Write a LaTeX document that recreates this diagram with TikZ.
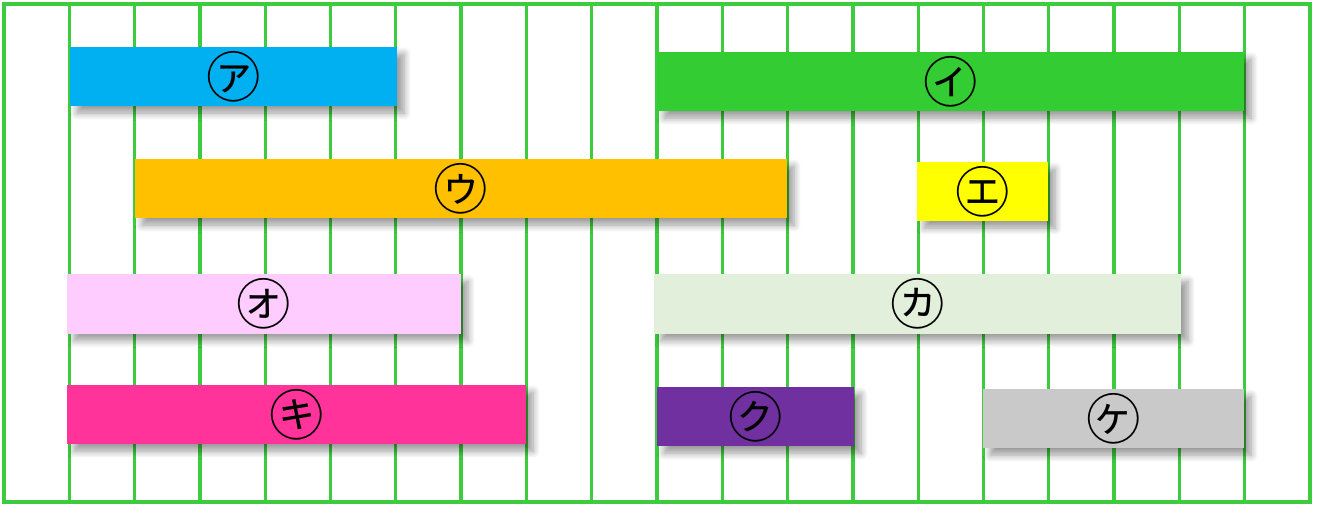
\documentclass[tikz,border=0pt]{standalone}
\usepackage{fontspec}
\newfontfamily\jpfont{Noto Sans CJK JP}
\usepackage{tikz}
\usetikzlibrary{positioning,shadows.blur}
\usepackage{xcolor}
\definecolor{gridgreen}{HTML}{3DCC3D}
\definecolor{barblue}{HTML}{00B0F0}
\definecolor{bargreen}{HTML}{33CC33}
\definecolor{barorange}{HTML}{FFC000}
\definecolor{baryellow}{HTML}{FFFF00}
\definecolor{barpink}{HTML}{FFCCFF}
\definecolor{barmint}{HTML}{E2EFDA}
\definecolor{barmagenta}{HTML}{FF3399}
\definecolor{barpurple}{HTML}{7030A0}
\definecolor{bargray}{HTML}{C9C9C9}

\begin{document}
\begin{tikzpicture}[x=0.02cm, y=-0.02cm,
    bar/.style={rectangle, inner sep=0pt, minimum height=59*0.02cm,
      font=\jpfont\fontsize{31}{31}\selectfont,
      blur shadow={shadow xshift=4pt, shadow yshift=-4pt, shadow blur steps=8, shadow blur radius=4pt, shadow opacity=40}},
    gridline/.style={gridgreen, line width=1.9pt}]
  \useasboundingbox (0,0) rectangle (1317,506);
  % Grid
  \foreach \k in {1,...,19}
    \draw[gridline] ({4+65.3*\k},4) -- ({4+65.3*\k},502);
  \draw[gridline] (4,4) rectangle (1310,502);
  % Row 1
  \node[bar, fill=barblue, minimum width=327*0.02cm] (a) at (233.5,76.5) {\raisebox{-2pt}{㋐}};
  \node[bar, fill=bargreen, minimum width=587*0.02cm] (i) at (950.5,81.5) {\raisebox{-2pt}{㋑}};
  % Row 2
  \node[bar, fill=barorange, minimum width=652*0.02cm] (u) at (461,188.5) {\raisebox{-2pt}{㋒}};
  \node[bar, fill=baryellow, minimum width=131*0.02cm] (e) at (982.5,191.5) {\raisebox{-2pt}{㋓}};
  % Row 3
  \node[bar, fill=barpink, minimum width=394*0.02cm] (o) at (264,304) {\raisebox{-2pt}{㋔}};
  \node[bar, fill=barmint, minimum width=527*0.02cm] (ka) at (917.5,304) {\raisebox{-2pt}{㋕}};
  % Row 4
  \node[bar, fill=barmagenta, minimum width=459*0.02cm] (ki) at (296.5,414.5) {\raisebox{-2pt}{㋖}};
  \node[bar, fill=barpurple, minimum width=197*0.02cm] (ku) at (755.5,416.5) {\raisebox{-2pt}{㋗}};
  \node[bar, fill=bargray, minimum width=261*0.02cm] (ke) at (1113.5,418.5) {\raisebox{-2pt}{㋘}};
\end{tikzpicture}
\end{document}
